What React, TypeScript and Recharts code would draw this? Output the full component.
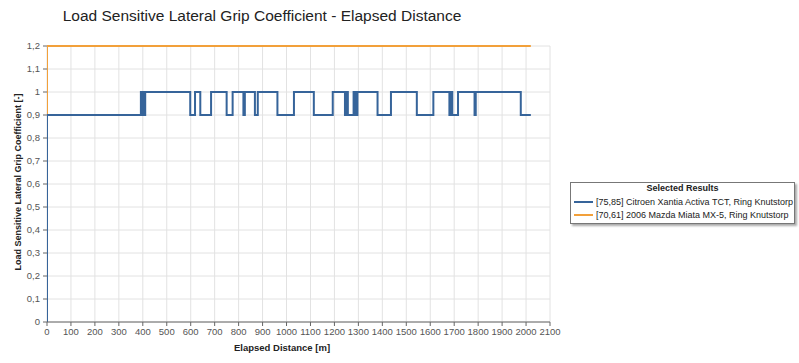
import React from 'react';
import { LineChart, Line, XAxis, YAxis, CartesianGrid } from 'recharts';

const xTicks = [0, 100, 200, 300, 400, 500, 600, 700, 800, 900, 1000, 1100, 1200, 1300, 1400, 1500, 1600, 1700, 1800, 1900, 2000, 2100];
const yTicks = [0, 0.1, 0.2, 0.3, 0.4, 0.5, 0.6, 0.7, 0.8, 0.9, 1, 1.1, 1.2];

const blueDistances = [0, 0, 392, 397, 401, 405, 410, 598, 618, 640, 685, 750, 775, 820, 826, 868, 880, 962, 1031, 1114, 1193, 1244, 1250, 1256, 1280, 1288, 1296, 1380, 1436, 1544, 1613, 1680, 1686, 1692, 1716, 1785, 1790, 1978, 2020];
const blueValues = [0, 0.9, 1, 0.9, 1, 0.9, 1, 0.9, 1, 0.9, 1, 0.9, 1, 0.9, 1, 0.9, 1, 0.9, 1, 0.9, 1, 0.9, 1, 0.9, 1, 0.9, 1, 0.9, 1, 0.9, 1, 0.9, 1, 0.9, 1, 0.9, 1, 0.9, 0.9];

const orangeDistances = [0, 0, 2020];
const orangeValues = [0, 1.2, 1.2];

const seriesNames = [
  '[75,85] Citroen Xantia Activa TCT, Ring Knutstorp',
  '[70,61] 2006 Mazda Miata MX-5, Ring Knutstorp',
];
const BLUE = '#36649a';
const ORANGE = '#f2a03a';

const blueData = blueDistances.map((d, i) => ({ d, v: blueValues[i] }));
const orangeData = orangeDistances.map((d, i) => ({ d, v: orangeValues[i] }));

const fmtY = (v: number) => String(Number(v.toFixed(1))).replace('.', ',');

const FONT = '"Liberation Sans", Arial, sans-serif';

export default function App() {
  return (
    <div style={{ position: 'absolute', left: 0, top: 0, width: 799, height: 363, background: '#fff', fontFamily: FONT }}>
      <LineChart width={799} height={363} margin={{ top: 46, right: 249, bottom: 0, left: 0 }}>
        <CartesianGrid stroke="#e2e2e2" strokeWidth={1} />
        <XAxis
          dataKey="d"
          type="number"
          domain={[0, 2100]}
          ticks={xTicks}
          allowDataOverflow
          height={41}
          tickSize={4}
          tickMargin={2}
          stroke="#666"
          tick={{ fontSize: 9.5, fill: '#555', fontFamily: FONT }}
          interval={0}
        />
        <YAxis
          type="number"
          domain={[0, 1.2]}
          ticks={yTicks}
          width={47}
          tickSize={4}
          tickMargin={3}
          stroke="#666"
          axisLine={false}
          tickFormatter={fmtY}
          tick={{ fontSize: 9.5, fill: '#555', fontFamily: FONT }}
          interval={0}
        />
        <Line data={orangeData} dataKey="v" type="linear" stroke={ORANGE} strokeWidth={2} dot={false} isAnimationActive={false} />
        <Line data={blueData} dataKey="v" type="stepAfter" stroke={BLUE} strokeWidth={2} dot={false} isAnimationActive={false} />
      </LineChart>
      <div style={{ position: 'absolute', left: 0, width: 524, top: 7, textAlign: 'center', fontSize: 15.5, color: '#222' }}>
        Load Sensitive Lateral Grip Coefficient - Elapsed Distance
      </div>
      <div style={{ position: 'absolute', left: 182, width: 200, top: 342, textAlign: 'center', fontSize: 9.5, fontWeight: 'bold', color: '#222' }}>
        Elapsed Distance [m]
      </div>
      <div style={{ position: 'absolute', left: 18, top: 183, width: 0, height: 0 }}>
        <div style={{ position: 'absolute', left: -120, top: -6, width: 240, textAlign: 'center', fontSize: 9, fontWeight: 'bold', color: '#222', transform: 'rotate(-90deg)', whiteSpace: 'nowrap' }}>
          Load Sensitive Lateral Grip Coefficient [-]
        </div>
      </div>
      <div style={{ position: 'absolute', left: 570, top: 182, width: 223, height: 40, border: '1px solid #777', boxShadow: '2px 2px 2px #aaa', background: '#fff', fontSize: 9, color: '#222' }}>
        <div style={{ textAlign: 'center', fontWeight: 'bold', marginTop: 0, fontSize: 9, height: 12 }}>Selected Results</div>
        {[BLUE, ORANGE].map((c, i) => (
          <div key={i} style={{ display: 'flex', alignItems: 'center', height: 13 }}>
            <div style={{ width: 19, height: 2, background: c, marginLeft: 3, marginRight: 3 }} />
            <span style={{ whiteSpace: 'nowrap' }}>{seriesNames[i]}</span>
          </div>
        ))}
      </div>
    </div>
  );
}
